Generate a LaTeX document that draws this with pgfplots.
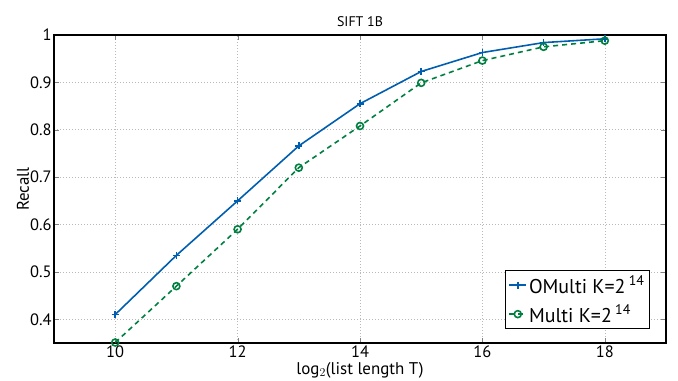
\documentclass[border=0pt]{standalone}
\usepackage{fontspec}
\setmainfont{PT Sans}
\usepackage{pgfplots}
\pgfplotsset{compat=1.18}

\definecolor{omblue}{RGB}{0,94,176}
\definecolor{mgreen}{RGB}{0,128,64}

\begin{document}
\begin{tikzpicture}
\begin{axis}[
  scale only axis,
  width=612bp, height=308bp,
  xmin=9, xmax=19, ymin=0.35, ymax=1,
  xtick={10,12,14,16,18},
  ytick={0.4,0.5,0.6,0.7,0.8,0.9,1},
  yticklabels={0.4,0.5,0.6,0.7,0.8,0.9,1},
  /pgf/number format/assume math mode=true,
  tick label style={font=\fontsize{16.5}{18}\selectfont},
  xticklabel style={yshift=1bp},
  yticklabel style={xshift=1bp},
  tick align=inside, tick pos=both,
  major tick length=5bp,
  axis line style={line width=1.1pt},
  grid=major,
  major grid style={dash pattern=on 1bp off 2bp, gray!55, line width=0.6pt},
  title={SIFT 1B},
  title style={font=\fontsize{14}{16}\selectfont, yshift=-1bp},
  xlabel={log$_2$(list length T)},
  ylabel={Recall},
  xlabel style={font=\fontsize{17}{19}\selectfont, yshift=2bp},
  ylabel style={font=\fontsize{17}{19}\selectfont, yshift=-6bp},
  legend style={at={(0.974,0.045)}, anchor=south east, draw=black, line width=1.1pt,
    font=\fontsize{20}{22}\selectfont, inner sep=3bp, row sep=6bp,
    /tikz/every even column/.append style={column sep=2bp}},
  legend cell align=left,
]
\addplot[omblue, line width=1.6pt, mark=+, mark size=3.5bp, mark options={solid, line width=1.6pt}]
  coordinates {(10,0.41) (11,0.535) (12,0.650) (13,0.766) (14,0.855) (15,0.923) (16,0.963) (17,0.984) (18,0.992)};
\addlegendentry{OMulti K=2\,$^{\mathrm{14}}$}
\addplot[mgreen, line width=1.6pt, dash pattern=on 5bp off 4bp, mark=o, mark size=3.5bp, mark options={solid, line width=1.6pt}]
  coordinates {(10,0.351) (11,0.470) (12,0.590) (13,0.720) (14,0.808) (15,0.899) (16,0.946) (17,0.975) (18,0.988)};
\addlegendentry{Multi K=2\,$^{\mathrm{14}}$}
\end{axis}
\pgfresetboundingbox
\path[use as bounding box] ([xshift=-54bp,yshift=-38bp]current axis.south west) rectangle ([xshift=12bp,yshift=35bp]current axis.north east);
\end{tikzpicture}
\end{document}
